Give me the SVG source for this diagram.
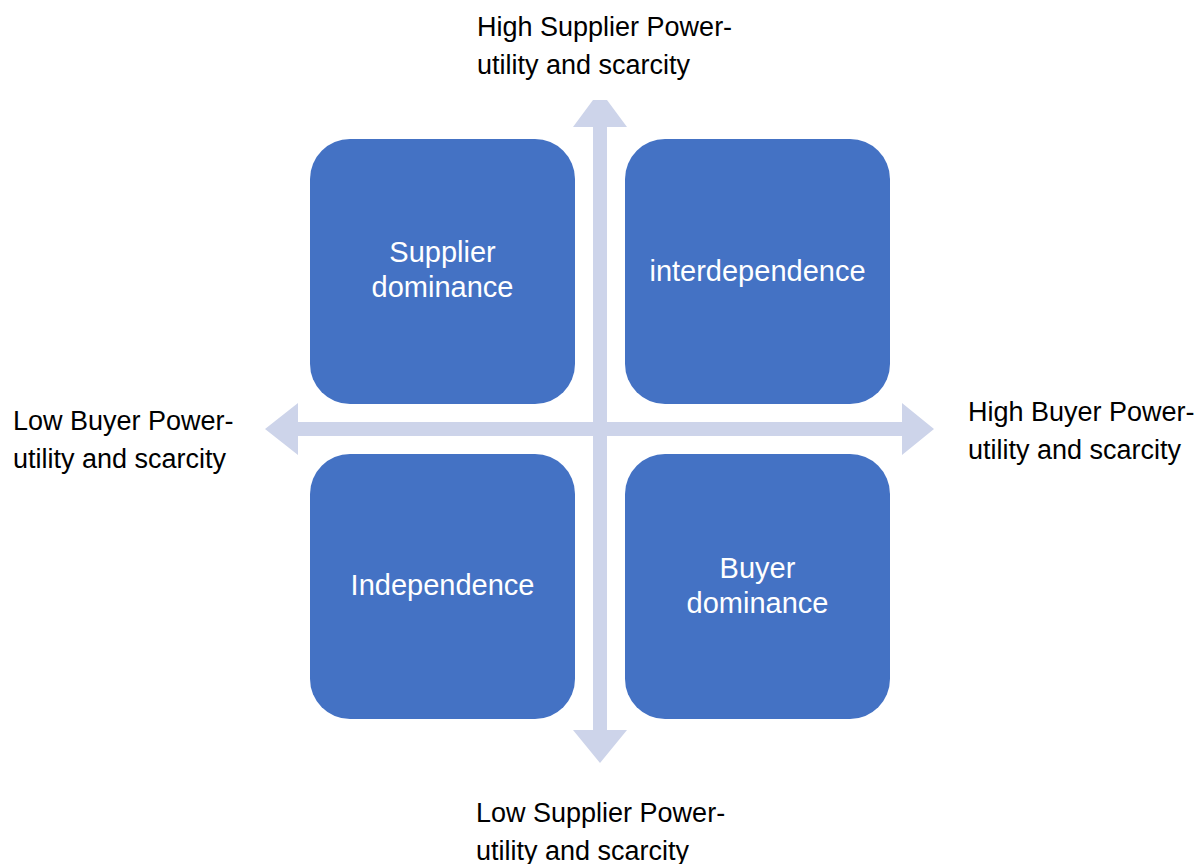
<svg xmlns="http://www.w3.org/2000/svg" width="1197" height="864" viewBox="0 0 1197 864">
<style>
.box{fill:#4472C4}
.arr{fill:#CDD4EA}
.bt{font-family:"Liberation Sans",Arial,sans-serif;font-size:29px;fill:#fff;text-anchor:middle}
.lb{font-family:"Liberation Sans",Arial,sans-serif;font-size:27px;fill:#000}
</style>
<rect width="1197" height="864" fill="#fff"/>
<g id="connectors">
<polygon class="arr" points="573,127 593,100 607,100 627,127 607,127 607,730 627,730 600,763 573,730 593,730 593,127"/>
<polygon class="arr" points="265,429 298,403 298,422 902,422 902,403 934,429 902,455 902,436 298,436 298,455"/>
</g>
<g id="node-supplier-dominance">
<rect class="box" x="310" y="139" width="265" height="265" rx="40"/>
<text class="bt" x="442.5" y="262">Supplier</text>
<text class="bt" x="442.5" y="297">dominance</text>
</g>
<g id="node-interdependence">
<rect class="box" x="625" y="139" width="265" height="265" rx="40"/>
<text class="bt" x="757.5" y="281">interdependence</text>
</g>
<g id="node-independence">
<rect class="box" x="310" y="454" width="265" height="265" rx="40"/>
<text class="bt" x="442.5" y="595">Independence</text>
</g>
<g id="node-buyer-dominance">
<rect class="box" x="625" y="454" width="265" height="265" rx="40"/>
<text class="bt" x="757.5" y="578">Buyer</text>
<text class="bt" x="757.5" y="613">dominance</text>
</g>
<g id="label-top">
<text class="lb" x="477" y="36">High Supplier Power-</text>
<text class="lb" x="477" y="74">utility and scarcity</text>
</g>
<g id="label-left">
<text class="lb" x="13" y="430">Low Buyer Power-</text>
<text class="lb" x="13" y="468">utility and scarcity</text>
</g>
<g id="label-right">
<text class="lb" x="968" y="421">High Buyer Power-</text>
<text class="lb" x="968" y="459">utility and scarcity</text>
</g>
<g id="label-bottom">
<text class="lb" x="476" y="822">Low Supplier Power-</text>
<text class="lb" x="476" y="860">utility and scarcity</text>
</g>
</svg>
